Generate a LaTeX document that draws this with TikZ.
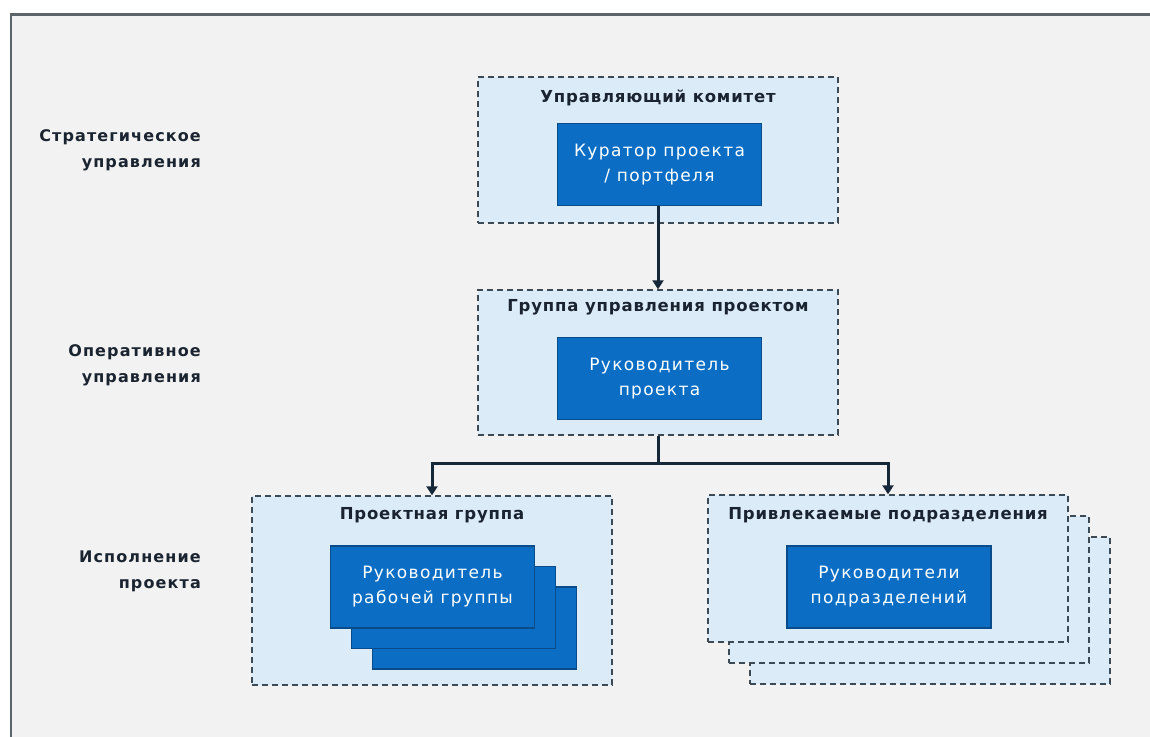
\documentclass[tikz,border=0pt]{standalone}
\usepackage{fontspec}
\setmainfont{DejaVu Sans}
\newfontfamily\ttlfont[LetterSpace=5]{DejaVu Sans}
\newfontfamily\inrfont[LetterSpace=8]{DejaVu Sans}
\newfontfamily\lvlfont[LetterSpace=7]{DejaVu Sans}
\usetikzlibrary{arrows.meta}
\definecolor{bgc}{HTML}{F2F2F2}
\definecolor{framec}{HTML}{5C646A}
\definecolor{grpfill}{HTML}{DCEBF8}
\definecolor{grpline}{HTML}{3C4A56}
\definecolor{boxfill}{HTML}{0B6EC4}
\definecolor{boxline}{HTML}{0A4C8A}
\definecolor{arrc}{HTML}{15283A}
\definecolor{txtc}{HTML}{1A2430}
\tikzset{
  grp/.style={draw=grpline, fill=grpfill, dashed, dash pattern=on 6pt off 4pt, line width=1.4pt, minimum width=360pt, inner sep=0pt},
  rolebox/.style={draw=boxline, fill=boxfill, line width=1.2pt, minimum width=204pt, minimum height=82pt, inner sep=0pt, text=white, align=center, font=\inrfont\fontsize{17}{25}\selectfont},
  grptitle/.style={text=txtc, font=\ttlfont\bfseries\fontsize{16.5}{18}\selectfont, inner sep=0pt},
  lvl/.style={text=txtc, align=right, anchor=east, inner sep=0pt, font=\lvlfont\bfseries\fontsize{16}{26}\selectfont},
  conn/.style={draw=arrc, line width=3pt, -{Triangle[length=9pt,width=11pt]}},
  connplain/.style={draw=arrc, line width=3pt}
}
\begin{document}
\begin{tikzpicture}[x=1pt,y=-1pt]
\useasboundingbox (0,0) rectangle (1150,736);
\fill[white] (0,0) rectangle (1150,736);
\filldraw[fill=bgc, draw=framec, line width=2.5pt] (11,14.5) rectangle (1160,750);

% level labels
\node[lvl] (l1) at (201,150) {Стратегическое\\управления};
\node[lvl] (l2) at (201,365) {Оперативное\\управления};
\node[lvl] (l3) at (201,571) {Исполнение\\проекта};

% top group
\node[grp, minimum height=146pt] (g1) at (658,150) {};
\node[grptitle] (t1) at (658,98) {Управляющий комитет};
\node[rolebox] (b1) at (659.5,164.5) {Куратор проекта\\/ портфеля};

% middle group
\node[grp, minimum height=145pt] (g2) at (658,362.5) {};
\node[grptitle] (t2) at (658,307) {Группа управления проектом};
\node[rolebox] (b2) at (659.5,378.5) {Руководитель\\проекта};

% bottom left group
\node[grp, minimum height=189pt] (g3) at (432,590.5) {};
\node[grptitle] (t3) at (432,515) {Проектная группа};
\node[rolebox] (b3c) at (474.5,628) {};
\node[rolebox] (b3b) at (453.5,607.5) {};
\node[rolebox] (b3) at (432.5,587) {Руководитель\\рабочей группы};

% bottom right group (stacked)
\node[grp, minimum height=147pt] (g4c) at (930,610.5) {};
\node[grp, minimum height=147pt] (g4b) at (909,589.5) {};
\node[grp, minimum height=147pt] (g4) at (888,568.5) {};
\node[grptitle] (t4) at (888,515) {Привлекаемые подразделения};
\node[rolebox] (b4) at (889,587) {Руководители\\подразделений};

% connectors
\draw[conn] (b1.south -| g2.north) -- (g2.north);
\coordinate (fork) at (g2.south |- 0,463);
\draw[connplain] (g2.south) -- (fork);
\draw[conn] (fork) -| (g3.north);
\draw[conn] (fork) -| (g4.north);
\end{tikzpicture}
\end{document}
